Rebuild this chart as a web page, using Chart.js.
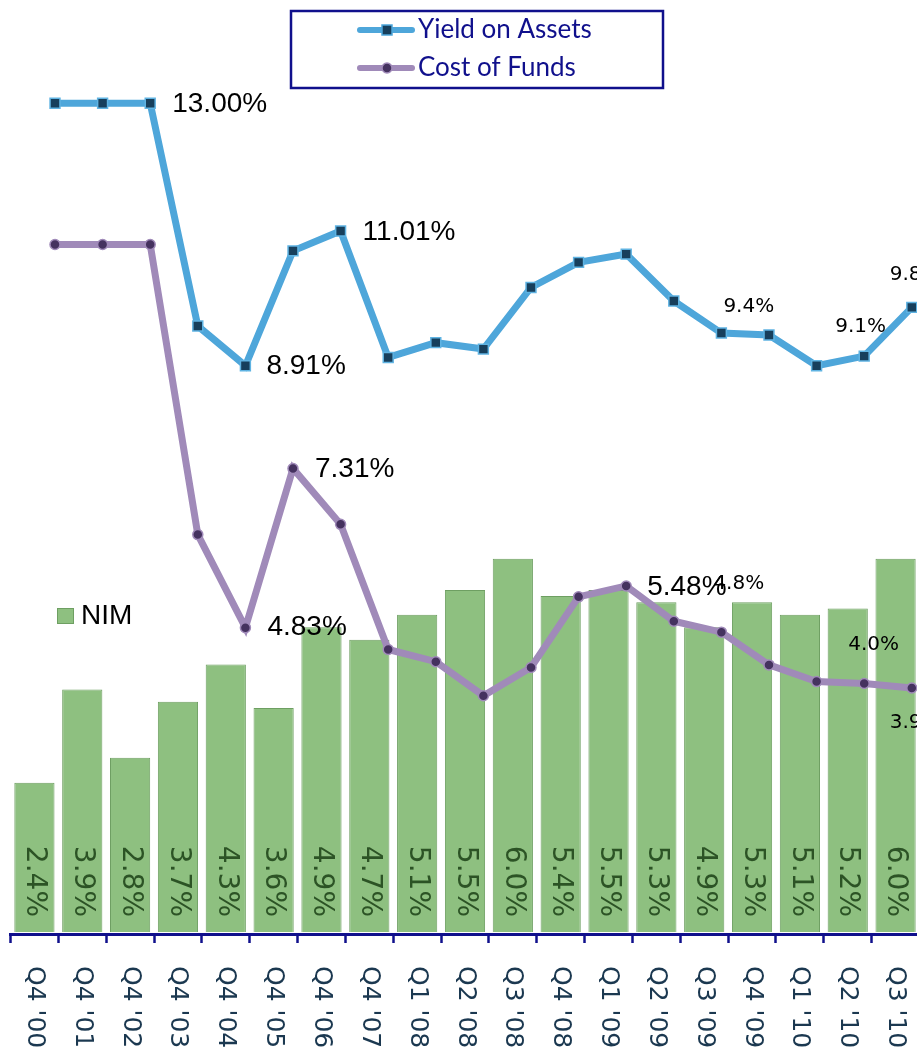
<!DOCTYPE html>
<html>
<head>
<meta charset="utf-8">
<script src="https://cdn.jsdelivr.net/npm/chart.js@4.4.1/dist/chart.umd.min.js"></script>
<style>
    html, body { margin: 0; padding: 0; overflow: hidden; background: #ffffff; }
    #wrap { position: relative; width: 930px; height: 1051px; }
</style>
</head>
<body>
<div id="wrap"><canvas id="nimChart" width="930" height="1051"></canvas></div>
<script>
// Categorias (trimestres)
const quarters = ["Q4 '00", "Q4 '01", "Q4 '02", "Q4 '03", "Q4 '04", "Q4 '05", "Q4 '06", "Q4 '07",
    "Q1 '08", "Q2 '08", "Q3 '08", "Q4 '08", "Q1 '09", "Q2 '09", "Q3 '09", "Q4 '09",
    "Q1 '10", "Q2 '10", "Q3 '10"];

// NIM (barras), em %
const nim = [2.4, 3.9, 2.8, 3.7, 4.3, 3.6, 4.9, 4.7, 5.1, 5.5, 6.0, 5.4, 5.5, 5.3, 4.9, 5.3, 5.1, 5.2, 6.0];

// Yield on Assets (linha azul), em %
const yieldOnAssets = [13.00, 13.00, 13.00, 9.53, 8.91, 10.70, 11.01, 9.04, 9.27, 9.17, 10.13, 10.52,
    10.65, 9.92, 9.42, 9.39, 8.91, 9.06, 9.82];

// Cost of Funds (linha roxa), em %
const costOfFunds = [10.80, 10.80, 10.80, 6.28, 4.83, 7.31, 6.44, 4.49, 4.30, 3.77, 4.21, 5.31,
    5.48, 4.93, 4.76, 4.25, 3.99, 3.96, 3.89];

// Pontos que recebem rótulo (índice, casas decimais, tamanho, deslocamento)
const yieldLabels = [
    { i: 2, digits: 2, big: true, dx: 22, dy: 1 },
    { i: 4, digits: 2, big: true, dx: 21, dy: 1 },
    { i: 6, digits: 2, big: true, dx: 22, dy: 1 },
    { i: 14, digits: 1, big: false, dx: 2, dy: -26 },
    { i: 17, digits: 1, big: false, dx: -29, dy: -29 },
    { i: 18, digits: 1, big: false, dx: -22, dy: -33 }
];
const costLabels = [
    { i: 14, digits: 1, big: false, dx: -8, dy: -48 },
    { i: 5, digits: 2, big: true, dx: 22, dy: 1 },
    { i: 4, digits: 2, big: true, dx: 22, dy: 0 },
    { i: 12, digits: 2, big: true, dx: 21, dy: 1 },
    { i: 17, digits: 1, big: false, dx: -16, dy: -39 },
    { i: 18, digits: 1, big: false, dx: -22, dy: 35 }
];

const BLUE = '#4ea6da';
const BLUE_MARK = '#173f5c';
const PURPLE = '#a08ab9';
const PURPLE_MARK = '#45325f';
const GREEN = '#8ec080';
const GREEN_EDGE = '#6e9f62';
const NAVY = '#10108c';

// Desenha rótulos, eixos de texto e legendas
const overlayPlugin = {
    id: 'overlay',
    afterDatasetsDraw(chart) {
        const ctx = chart.ctx;
        const base = chart.scales.y.getPixelForValue(0);

        // Valores do NIM dentro das barras (girados)
        chart.getDatasetMeta(0).data.forEach((bar, i) => {
            ctx.save();
            ctx.translate(bar.x, base - 15);
            ctx.rotate(Math.PI / 2);
            ctx.font = '28px "DejaVu Sans"';
            ctx.fillStyle = '#2c5325';
            ctx.textAlign = 'right';
            ctx.textBaseline = 'middle';
            ctx.fillText(nim[i].toFixed(1) + '%', 0, 0);
            ctx.restore();
        });

        // Rótulos das linhas
        const drawLabels = (meta, values, specs) => {
            specs.forEach(s => {
                const pt = meta.data[s.i];
                ctx.save();
                ctx.font = s.big ? '28px "Liberation Sans"' : '20px "DejaVu Sans"';
                ctx.fillStyle = '#000000';
                ctx.textAlign = 'left';
                ctx.textBaseline = 'middle';
                ctx.fillText(values[s.i].toFixed(s.digits) + '%', pt.x + s.dx, pt.y + s.dy);
                ctx.restore();
            });
        };
        drawLabels(chart.getDatasetMeta(1), yieldOnAssets, yieldLabels);
        drawLabels(chart.getDatasetMeta(2), costOfFunds, costLabels);
    },
    afterDraw(chart) {
        const ctx = chart.ctx;
        const xs = chart.scales.x;
        const bottom = chart.chartArea.bottom;

        // Rótulos do eixo X, girados 90° no sentido horário
        quarters.forEach((q, i) => {
            ctx.save();
            ctx.translate(xs.getPixelForValue(i), bottom + 32);
            ctx.rotate(Math.PI / 2);
            ctx.font = '25px "DejaVu Sans"';
            ctx.fillStyle = '#1b3850';
            ctx.textAlign = 'left';
            ctx.textBaseline = 'middle';
            ctx.fillText(q, 0, 0);
            ctx.restore();
        });

        // Legenda das linhas (caixa)
        ctx.save();
        ctx.fillStyle = '#ffffff';
        ctx.fillRect(291, 11, 372, 77);
        ctx.strokeStyle = NAVY;
        ctx.lineWidth = 2.5;
        ctx.strokeRect(291, 11, 372, 77);

        const sample = (y, color, markColor, square, text) => {
            ctx.strokeStyle = color;
            ctx.lineWidth = 6;
            ctx.lineCap = 'round';
            ctx.beginPath();
            ctx.moveTo(360, y);
            ctx.lineTo(412, y);
            ctx.stroke();
            ctx.fillStyle = markColor;
            ctx.strokeStyle = color;
            ctx.lineWidth = 1.5;
            if (square) {
                ctx.fillRect(382, y - 5, 10, 10);
                ctx.strokeRect(382, y - 5, 10, 10);
            } else {
                ctx.beginPath();
                ctx.arc(387, y, 5, 0, Math.PI * 2);
                ctx.fill();
                ctx.stroke();
            }
            ctx.font = '26px Lato';
            ctx.fillStyle = NAVY;
            ctx.textAlign = 'left';
            ctx.textBaseline = 'middle';
            ctx.fillText(text, 418, y);
        };
        sample(30, BLUE, BLUE_MARK, true, 'Yield on Assets');
        sample(68, PURPLE, PURPLE_MARK, false, 'Cost of Funds');

        // Legenda do NIM
        ctx.fillStyle = GREEN;
        ctx.fillRect(57, 608, 16, 15);
        ctx.strokeStyle = GREEN_EDGE;
        ctx.lineWidth = 1;
        ctx.strokeRect(57.5, 608.5, 16, 15);
        ctx.font = '28px "Liberation Sans"';
        ctx.fillStyle = '#000000';
        ctx.textAlign = 'left';
        ctx.textBaseline = 'middle';
        ctx.fillText('NIM', 81, 616);
        ctx.restore();
    }
};

const ctx = document.getElementById('nimChart').getContext('2d');
new Chart(ctx, {
    type: 'bar',
    data: {
        labels: quarters,
        datasets: [
            {
                label: 'NIM',
                data: nim,
                backgroundColor: GREEN,
                borderColor: GREEN_EDGE,
                borderWidth: 1,
                categoryPercentage: 1,
                barPercentage: 0.84,
                grouped: false,
                xAxisID: 'x',
                yAxisID: 'y',
                order: 3
            },
            {
                type: 'line',
                label: 'Yield on Assets',
                data: yieldOnAssets.map((v, i) => ({ x: i, y: v })),
                borderColor: BLUE,
                borderWidth: 7,
                pointStyle: 'rect',
                pointRadius: 7,
                pointBackgroundColor: BLUE_MARK,
                pointBorderColor: '#5fb3e2',
                pointBorderWidth: 1.5,
                tension: 0,
                xAxisID: 'x2',
                yAxisID: 'y2',
                order: 1
            },
            {
                type: 'line',
                label: 'Cost of Funds',
                data: costOfFunds.map((v, i) => ({ x: i, y: v })),
                borderColor: PURPLE,
                borderWidth: 7,
                pointStyle: 'circle',
                pointRadius: 5,
                pointBackgroundColor: PURPLE_MARK,
                pointBorderColor: PURPLE,
                pointBorderWidth: 1.5,
                tension: 0,
                xAxisID: 'x2',
                yAxisID: 'y2',
                order: 2
            }
        ]
    },
    options: {
        responsive: false,
        animation: false,
        layout: { padding: { top: 40, left: 10.5, right: 10.5, bottom: 0 } },
        plugins: {
            legend: { display: false },
            tooltip: { enabled: false }
        },
        scales: {
            x: {
                type: 'category',
                offset: true,
                z: 1,
                grid: {
                    display: true,
                    offset: true,
                    drawOnChartArea: false,
                    drawTicks: true,
                    tickLength: 9,
                    tickColor: NAVY,
                    tickWidth: 2.5
                },
                border: { display: true, color: NAVY, width: 3 },
                ticks: { display: false },
                afterFit(scale) { scale.height = 117; }
            },
            x2: {
                type: 'linear',
                display: false,
                offset: false,
                grid: { offset: false },
                min: -0.935,
                max: 18.162
            },
            y: { display: false, beginAtZero: false, bounds: 'data', min: -0.032, max: 14.34 },
            y2: { display: false, beginAtZero: false, bounds: 'data', min: 0.058, max: 13.985 }
        }
    },
    plugins: [overlayPlugin]
});
</script>
</body>
</html>
